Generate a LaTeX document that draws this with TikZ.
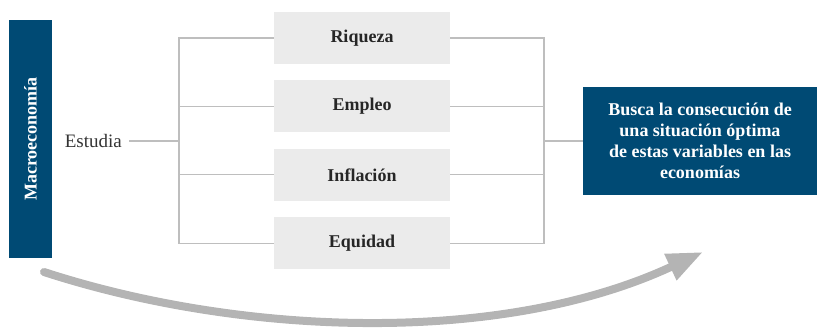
\documentclass[tikz,border=0pt]{standalone}
\usepackage{fontspec}
\setmainfont{Liberation Serif}
\usepackage{xcolor}
\usetikzlibrary{arrows.meta,positioning,calc}
\definecolor{navy}{RGB}{0,74,116}
\definecolor{tile}{RGB}{235,235,235}
\definecolor{wire}{RGB}{190,190,190}
\definecolor{sweep}{RGB}{180,180,180}

\begin{document}
\begin{tikzpicture}[
    x=1pt, y=-1pt,
    dark/.style={fill=navy, text=white, inner sep=0pt, align=center,
                 font=\fontsize{18}{21}\selectfont\bfseries},
    item/.style={fill=tile, minimum width=176pt, minimum height=52pt,
                 inner sep=0pt, font=\fontsize{18}{21}\selectfont\bfseries, text=black!85},
    conn/.style={draw=wire, line width=1.1pt},
    flow/.style={draw=sweep, line width=8pt, line cap=round,
                 -{Triangle[length=36pt,width=27pt]}}]

    \useasboundingbox (0,0) rectangle (817,329);

    % left title bar
    \node[dark, minimum width=238pt, minimum height=43pt, rotate=90] (macro) at (30.5,139) {Macroeconomía};
    \node[font=\fontsize{19}{22}\selectfont, text=black!80, inner sep=0pt,
          anchor=east] (estudia) at (122,141) {Estudia};

    % variables
    \node[item] (riqueza) at (362,38) {Riqueza};
    \node[item, below=16pt of riqueza] (empleo) {Empleo};
    \node[item, below=16pt of empleo] (inflacion) {Inflación};
    \node[item, below=16pt of inflacion] (equidad) {Equidad};

    % goal box
    \node[dark, minimum width=234pt, minimum height=108pt] (meta) at (700,141)
        {Busca la consecución de\\una situación óptima\\de estas variables en las\\economías};

    % brackets
    \coordinate (jl) at (179,141);
    \coordinate (jr) at (544,141);
    \draw[conn] ([xshift=7pt]estudia.east) -- (jl);
    \foreach \v in {riqueza,empleo,inflacion,equidad} {
        \draw[conn] (\v.west) -| (jl);
        \draw[conn] (\v.east) -| (jr);
    }
    \draw[conn] (jr) -- (meta.west);

    % sweeping arrow
    \coordinate (a0) at (44,272);
    \coordinate (a1) at (703,252);
    \draw[flow] (a0) .. controls (244,337) and (503,345) .. (a1);
\end{tikzpicture}
\end{document}
